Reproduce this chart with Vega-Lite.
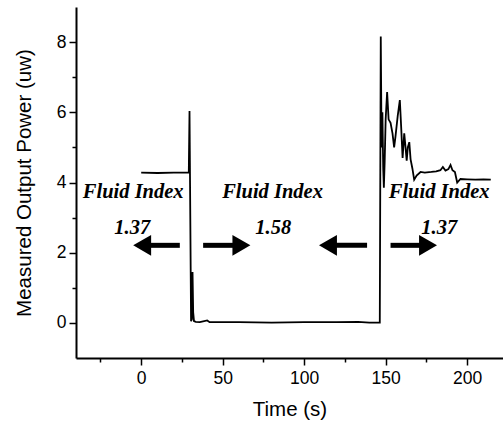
{
  "$schema": "https://vega.github.io/schema/vega-lite/v6.json",
  "width": 427,
  "height": 351,
  "autosize": "none",
  "padding": {"left": 76, "top": 7, "right": 0, "bottom": 67},
  "background": "white",
  "config": {"view": {"stroke": null}},
  "datasets": {
    "signal": [
      {"t": 0, "v": 4.28}, {"t": 10, "v": 4.27}, {"t": 20, "v": 4.28}, {"t": 29.2, "v": 4.28},
      {"t": 29.65, "v": 6.04}, {"t": 30.6, "v": 0.05}, {"t": 31.1, "v": 0.1}, {"t": 31.5, "v": 1.45},
      {"t": 31.9, "v": 0.3}, {"t": 32.4, "v": 0.05}, {"t": 33.5, "v": 0.03}, {"t": 36, "v": 0.02},
      {"t": 40.5, "v": 0.07}, {"t": 42, "v": 0.02}, {"t": 60, "v": 0.02}, {"t": 80, "v": 0.01},
      {"t": 100, "v": 0.02}, {"t": 120, "v": 0.02}, {"t": 133, "v": 0.03}, {"t": 140, "v": 0.01},
      {"t": 146.4, "v": 0.01}, {"t": 147.0, "v": 8.16}, {"t": 147.5, "v": 5.0}, {"t": 148.0, "v": 6.0},
      {"t": 148.5, "v": 4.4}, {"t": 148.9, "v": 3.85}, {"t": 149.4, "v": 4.6}, {"t": 150.0, "v": 5.8},
      {"t": 150.9, "v": 6.58}, {"t": 151.8, "v": 5.8}, {"t": 153.0, "v": 5.7}, {"t": 154.2, "v": 5.4},
      {"t": 155.2, "v": 5.0}, {"t": 156.0, "v": 5.3}, {"t": 157.4, "v": 5.9}, {"t": 158.7, "v": 6.35},
      {"t": 159.5, "v": 5.6}, {"t": 160.4, "v": 4.7}, {"t": 161.4, "v": 5.4}, {"t": 162.2, "v": 5.0},
      {"t": 162.9, "v": 4.62}, {"t": 163.6, "v": 5.0}, {"t": 164.5, "v": 5.15}, {"t": 165.3, "v": 4.66},
      {"t": 166.4, "v": 4.4}, {"t": 167.5, "v": 4.08}, {"t": 169.0, "v": 4.2},
      {"t": 171.4, "v": 4.3}, {"t": 174, "v": 4.28}, {"t": 178, "v": 4.3}, {"t": 181, "v": 4.32},
      {"t": 183.6, "v": 4.35}, {"t": 185.1, "v": 4.44}, {"t": 186.7, "v": 4.34}, {"t": 188.5, "v": 4.38},
      {"t": 189.8, "v": 4.5}, {"t": 191, "v": 4.35}, {"t": 192.5, "v": 4.3}, {"t": 193.9, "v": 4.0},
      {"t": 195.9, "v": 4.1}, {"t": 200, "v": 4.09}, {"t": 205, "v": 4.08}, {"t": 210, "v": 4.09},
      {"t": 214.5, "v": 4.08}
    ],
    "shafts": [
      {"t": 23.7, "t2": 5.3, "v": 2.21},
      {"t": 38.0, "t2": 56.9, "v": 2.21},
      {"t": 138.6, "t2": 119.2, "v": 2.21},
      {"t": 153.0, "t2": 171.4, "v": 2.21}
    ],
    "heads": [
      {"t": 0.6, "v": 2.21, "dir": "left"},
      {"t": 61.5, "v": 2.21, "dir": "right"},
      {"t": 114.6, "v": 2.21, "dir": "left"},
      {"t": 176.0, "v": 2.21, "dir": "right"}
    ],
    "labels": [
      {"t": -4.9, "v": 3.56, "text": "Fluid Index"},
      {"t": 80.6, "v": 3.56, "text": "Fluid Index"},
      {"t": 182.8, "v": 3.56, "text": "Fluid Index"},
      {"t": -5.5, "v": 2.53, "text": "1.37"},
      {"t": 81.0, "v": 2.53, "text": "1.58"},
      {"t": 182.9, "v": 2.53, "text": "1.37"}
    ]
  },
  "encoding": {
    "x": {
      "field": "t", "type": "quantitative",
      "scale": {"domain": [-40, 222], "nice": false, "zero": false},
      "axis": {
        "title": "Time (s)",
        "values": [-25, 0, 25, 50, 75, 100, 125, 150, 175, 200],
        "labelExpr": "datum.value % 50 === 0 ? datum.label : ''",
        "tickSize": {"condition": {"test": "datum.value % 50 !== 0", "value": 4}, "value": 7},
        "grid": false,
        "domainColor": "black", "domainWidth": 2,
        "tickColor": "black", "tickWidth": 1.5,
        "labelColor": "black", "labelFont": "Liberation Sans", "labelFontSize": 17.5,
        "labelPadding": 4, "labelFlush": false,
        "titleColor": "black", "titleFont": "Liberation Sans", "titleFontSize": 20.5,
        "titleFontWeight": "normal", "titlePadding": 13
      }
    },
    "y": {
      "field": "v", "type": "quantitative",
      "scale": {"domain": [-1, 9], "nice": false, "zero": false},
      "axis": {
        "title": "Measured Output Power (uw)",
        "values": [0, 1, 2, 3, 4, 5, 6, 7, 8],
        "labelExpr": "datum.value % 2 === 0 ? datum.label : ''",
        "tickSize": {"condition": {"test": "datum.value % 2 !== 0", "value": 4}, "value": 7},
        "grid": false,
        "domainColor": "black", "domainWidth": 2,
        "tickColor": "black", "tickWidth": 1.5,
        "labelColor": "black", "labelFont": "Liberation Sans", "labelFontSize": 17.5,
        "labelPadding": 3, "labelFlush": false,
        "titleColor": "black", "titleFont": "Liberation Sans", "titleFontSize": 20.5,
        "titleFontWeight": "normal", "titlePadding": 22
      }
    }
  },
  "layer": [
    {
      "data": {"name": "signal"},
      "mark": {"type": "line", "color": "black", "strokeWidth": 1.8, "interpolate": "linear"}
    },
    {
      "data": {"name": "shafts"},
      "mark": {"type": "rule", "color": "black", "strokeWidth": 5},
      "encoding": {"x2": {"field": "t2"}}
    },
    {
      "data": {"name": "heads"},
      "mark": {"type": "point", "filled": true, "color": "black", "opacity": 1, "size": 430, "strokeWidth": 0},
      "encoding": {
        "shape": {"field": "dir", "type": "nominal", "scale": {"domain": ["left", "right"], "range": ["triangle-left", "triangle-right"]}, "legend": null}
      }
    },
    {
      "data": {"name": "labels"},
      "mark": {"type": "text", "font": "Liberation Serif", "fontStyle": "italic", "fontWeight": "bold", "fontSize": 20.5, "color": "black", "align": "center", "baseline": "alphabetic"},
      "encoding": {"text": {"field": "text"}}
    }
  ]
}
